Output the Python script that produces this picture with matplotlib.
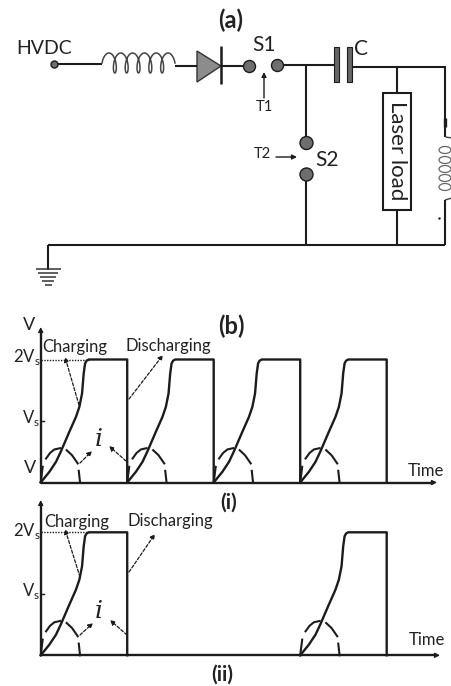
import numpy as np
import matplotlib
matplotlib.use('Agg')
import matplotlib.pyplot as plt
from matplotlib.patches import Circle, Ellipse, Polygon, Rectangle

plt.rcParams['font.family'] = ['Lato', 'DejaVu Sans']
plt.rcParams['mathtext.fontset'] = 'custom'
plt.rcParams['mathtext.rm'] = 'Lato'

# one pulse, time in periods, voltage in units of Vs
pulse_t = [0, .10, .177, .235, .331, .408, .447, .478, .497, .513, .530, .555, .62, 1, 1]
pulse_v = [0, .173, .336, .51, .824, 1.068, 1.23, 1.447, 1.772, 1.935, 1.98, 2, 2, 2, 0]

# dome of the current, broken into dashes
current_t = [[0, .023], [.062, .108, .158, .224], [.30, .362, .428], [.44, .455]]
current_v = [[0, .255], [.39, .48, .537, .558], [.525, .444, .31], [.19, 0]]

starts_i = [0, 1, 2, 3]
starts_ii = [0, 3]

tick_2vs = '2V$_{\\mathrm{s}}$'
tick_vs = 'V$_{\\mathrm{s}}$'

INK = '#1c1c1c'
W, H = 452, 686

fig = plt.figure(figsize=(W / 100, H / 100), dpi=100, facecolor='white')

# whole figure in pixels for the circuit and the labels
bg = fig.add_axes([0, 0, 1, 1])
bg.set_xlim(0, W)
bg.set_ylim(H, 0)
bg.axis('off')


def wire(xs, ys, lw=1.5, color=INK):
    bg.plot(xs, ys, color=color, lw=lw, solid_capstyle='butt', solid_joinstyle='miter')


def node(x, y, r):
    bg.add_patch(Circle((x, y), r, fc='#6e6e6e', ec=INK, lw=1.0, zorder=3))


def arrow(x0, y0, x1, y1, dashed=False, lw=0.9):
    bg.annotate('', xy=(x1, y1), xytext=(x0, y0),
                arrowprops=dict(arrowstyle='-|>', color=INK, lw=lw, shrinkA=0, shrinkB=0,
                                mutation_scale=7, linestyle=(0, (2.5, 1.5)) if dashed else '-'))


def label(x, y, s, size=13, **kw):
    bg.text(x, y, s, fontsize=size, ha='center', va='center', color='#222222', **kw)


def coil_h(x0, x1, ymid, n, amp, loop, color='#444444', lw=1.1):
    t = np.linspace(0, 2 * np.pi * n, 500)
    x = x0 + loop + (x1 - x0 - 2 * loop) * t / t[-1] - loop * np.cos(t)
    y = ymid - amp * np.sin(t)
    bg.plot(x, y, color=color, lw=lw)


# upper rail
wire([58, 102], [64, 64])
coil_h(102, 175, 63, 5.5, 10, 4)
wire([175, 197], [65.5, 65.5])
wire([221, 244], [66, 66])
bg.add_patch(Polygon([(197, 51), (197, 82), (221, 66)], fc='#8c8c8c', ec='#333333', lw=1.0))
wire([221, 221], [46, 84], lw=1.8)
node(54.5, 64.5, 3.5)
node(249.5, 66.5, 6)
node(277.5, 65.5, 6)
wire([284, 334], [65, 65])
bg.add_patch(Rectangle((334.5, 47), 5, 35, fc='#666666', ec=INK, lw=0.8))
bg.add_patch(Rectangle((347.5, 47), 5, 35, fc='#666666', ec=INK, lw=0.8))
wire([353, 446], [67, 67])

# S2 branch
wire([306.5, 306.5], [65, 137])
wire([306.5, 306.5], [181, 245])
node(306.5, 143, 6.5)
node(306.5, 174.5, 6.5)

# laser load
wire([397.5, 397.5], [67, 93])
wire([397.5, 397.5], [209, 245])
bg.add_patch(Rectangle((383.5, 93), 27.5, 116.5, fc='white', ec=INK, lw=1.5))
bg.text(397.5, 151, 'Laser load', rotation=270, fontsize=16, ha='center', va='center', color='#222222')

# right hand coil, cut by the edge
wire([445.5, 445.5], [67, 137])
wire([445.5, 445.5], [118, 127], lw=2.4)
wire([445.5, 452], [137, 138], lw=1.0, color='#444444')
for yc in [150, 160, 169, 178, 187]:
    bg.add_patch(Ellipse((445, yc), 12, 7, fc='none', ec='#666666', lw=0.9))
wire([452, 445], [198, 200], lw=1.0, color='#444444')
wire([445, 445], [200, 245])
bg.plot([439], [218], '.', color=INK, ms=1.5)

# ground
wire([48.5, 445], [244.5, 244.5])
wire([48.5, 48.5], [244.5, 270])
for y, half in [(269, 12.5), (273, 10), (277, 8), (281, 6), (285, 3.5)]:
    wire([48.5 - half, 48.5 + half], [y, y], lw=1.1, color='#333333')

arrow(264, 98, 264, 72, lw=1.0)
arrow(276, 157, 297, 157, lw=1.0)

label(231, 20, '(a)', size=17, fontweight='bold')
label(44, 48, 'HVDC', size=14)
label(264, 45, 'S1', size=15)
label(361, 49, 'C', size=15)
label(264, 107, 'T1', size=10.5)
label(262, 154, 'T2', size=10.5)
label(327, 160, 'S2', size=15)


def panel(origin_y, xend, ytop, starts):
    # axes with the origin on the drawn axis lines, 86.5 px per period, 61.5 px per Vs
    x0 = 40.7
    ax = fig.add_axes([x0 / W, (H - origin_y) / H, (xend - x0) / W, (origin_y - ytop) / H])
    ax.set_xlim(0, (xend - x0) / 86.5)
    ax.set_ylim(0, (origin_y - ytop) / 61.5)
    ax.patch.set_alpha(0)
    for name in ['top', 'right', 'left', 'bottom']:
        ax.spines[name].set_visible(False)
    ax.set_xticks([])
    ax.set_yticks([])
    for s in starts:
        ax.plot(np.array(pulse_t) + s, pulse_v, color=INK, lw=1.7, clip_on=False)
        for ct, cv in zip(current_t, current_v):
            ax.plot(np.array(ct) + s, cv, color=INK, lw=1.5, clip_on=False)
    ax.plot([0, .56], [2, 2], color=INK, lw=1.0, ls=(0, (1, 1)))
    # axes arrows
    wire([x0, x0], [origin_y, ytop + 3], lw=1.7)
    wire([x0, xend - 3], [origin_y, origin_y], lw=1.7)
    arrow(x0, ytop + 6, x0, ytop, lw=1.0)
    arrow(xend - 6, origin_y, xend, origin_y, lw=1.0)
    bg.plot([x0, x0 + 3], [origin_y - 61.5] * 2, color=INK, lw=1.0)
    return ax


panel(482.5, 437, 327, starts_i)
label(29, 325, 'V', size=13)
label(231, 326, '(b)', size=17, fontweight='bold')
label(75, 347, 'Charging', size=12)
label(168, 346, 'Discharging', size=12)
label(27, 357, tick_2vs, size=12)
label(31, 418, tick_vs, size=12)
label(30, 468, 'V', size=13)
label(426, 471, 'Time', size=12)
bg.text(99, 439, 'i', fontsize=18, style='italic', family='DejaVu Serif', ha='center', va='center', color='#222222')
arrow(79, 405, 65, 357, dashed=True)
arrow(129, 399, 163, 355, dashed=True)
arrow(80, 463, 92, 451, dashed=True)
arrow(126, 461, 109, 446, dashed=True)
label(229, 503, '(i)', size=15, fontweight='bold')

panel(655.3, 440, 500, starts_ii)
label(77, 522, 'Charging', size=12)
label(170, 521, 'Discharging', size=12)
label(27, 531, tick_2vs, size=12)
label(31, 591, tick_vs, size=12)
label(427, 640, 'Time', size=12)
bg.text(99, 612, 'i', fontsize=18, style='italic', family='DejaVu Serif', ha='center', va='center', color='#222222')
arrow(80, 577, 65, 529, dashed=True)
arrow(129, 572, 155, 534, dashed=True)
arrow(80, 635, 93, 623, dashed=True)
arrow(127, 635, 110, 620, dashed=True)
label(222, 675, '(ii)', size=15, fontweight='bold')

fig.savefig('out.png', dpi=100, facecolor='white')
